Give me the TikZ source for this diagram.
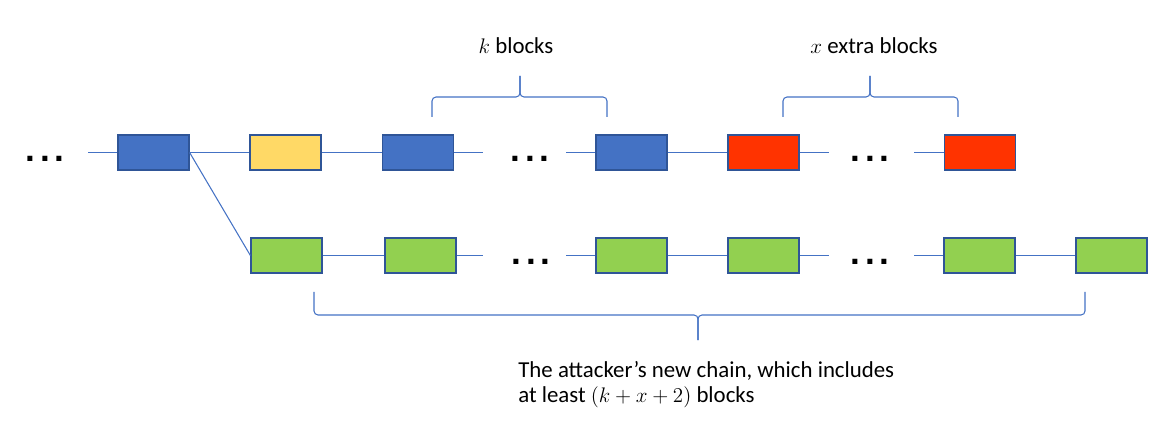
\documentclass[tikz,border=0pt]{standalone}
\usepackage{fontspec}
\setmainfont{Carlito}
\newfontfamily\dotfont[LetterSpace=14]{Liberation Sans}
\usepackage{tikz}
\usetikzlibrary{
  positioning,
  calc,
}

\definecolor{blkblue}{HTML}{4472C4}
\definecolor{blkyellow}{HTML}{FFD966}
\definecolor{blkred}{HTML}{FF3300}
\definecolor{blkgreen}{HTML}{92D050}
\definecolor{blkedge}{HTML}{2F5597}

\begin{document}
\begin{tikzpicture}[
  x=0.02cm, y=-0.02cm,
  font=\fontsize{13}{14.2}\selectfont,
  every node/.style={align=center},
  block/.style={draw=blkedge, line width=0.7pt,
                minimum width=1.42cm, minimum height=0.7cm, inner sep=0pt},
  link/.style={draw=blkblue, line width=0.6pt},
  brace/.style={draw=blkblue, line width=0.6pt, rounded corners=0.08cm},
  dots/.style={font=\dotfont\bfseries\fontsize{20}{20}\selectfont, inner sep=0pt},
]
\useasboundingbox (0,0) rectangle (1170,422);

% honest chain
\node[block,fill=blkblue]   (b0) at (153.5,152.5) {};
\node[block,fill=blkyellow] (y1) at (285.5,152.5) {};
\node[block,fill=blkblue]   (b1) at (418,152.5)   {};
\node[block,fill=blkblue]   (bk) at (631.5,152.5) {};
\node[block,fill=blkred]    (r1) at (763.5,152.5) {};
\node[block,fill=blkred]    (rx) at (980,152.5)   {};

% attacker chain
\node[block,fill=blkgreen] (g1) at (286.5,255.5)  {};
\node[block,fill=blkgreen] (g2) at (420.5,255.5)  {};
\node[block,fill=blkgreen] (g3) at (631.5,255.5)  {};
\node[block,fill=blkgreen] (g4) at (763.5,255.5)  {};
\node[block,fill=blkgreen] (g5) at (979.5,255.5)  {};
\node[block,fill=blkgreen] (g6) at (1111.5,255.5) {};

\node[dots] (d0)  at (45,158.5)  {...};
\node[dots] (dt1) at (530,158.5) {...};
\node[dots] (dt2) at (870,158.5) {...};
\node[dots] (db1) at (531,262)   {...};
\node[dots] (db2) at (870,262)   {...};

\coordinate (s0)  at (88,152.5);
\coordinate (st1) at (483,152.5);
\coordinate (st2) at (566,152.5);
\coordinate (st3) at (829,152.5);
\coordinate (st4) at (914,152.5);
\coordinate (sb1) at (483,255.5);
\coordinate (sb2) at (566,255.5);
\coordinate (sb3) at (829,255.5);
\coordinate (sb4) at (914,255.5);

\draw[link] (s0) -- (b0.west);
\draw[link] (b0) -- (y1); \draw[link] (y1) -- (b1);
\draw[link] (b1.east) -- (st1); \draw[link] (st2) -- (bk.west);
\draw[link] (bk) -- (r1); \draw[link] (r1.east) -- (st3);
\draw[link] (st4) -- (rx.west);
\draw[link] (b0.east) -- (g1.west);
\draw[link] (g1) -- (g2); \draw[link] (g2.east) -- (sb1);
\draw[link] (sb2) -- (g3.west); \draw[link] (g3) -- (g4);
\draw[link] (g4.east) -- (sb3); \draw[link] (sb4) -- (g5.west);
\draw[link] (g5) -- (g6);

% braces
\draw[brace] (432,117) -- (432,97) -- (520,97) -- (520,76);
\draw[brace] (520,76) -- (520,97) -- (607,97) -- (607,117);
\draw[brace] (783,117) -- (783,97) -- (870,97) -- (870,76);
\draw[brace] (870,76) -- (870,97) -- (958,97) -- (958,117);
\draw[brace] (314,292) -- (314,315) -- (698,315) -- (698,340);
\draw[brace] (698,340) -- (698,315) -- (1085,315) -- (1085,292);

\node (lk) at (516,46) {$k$ blocks};
\node (lx) at (874,46) {$x$ extra blocks};
\node[anchor=north west, inner sep=0pt, align=left] (latt) at (518,361)
  {The attacker's new chain, which includes\\
   at least $(k+x+2)$ blocks};

\end{tikzpicture}
\end{document}
